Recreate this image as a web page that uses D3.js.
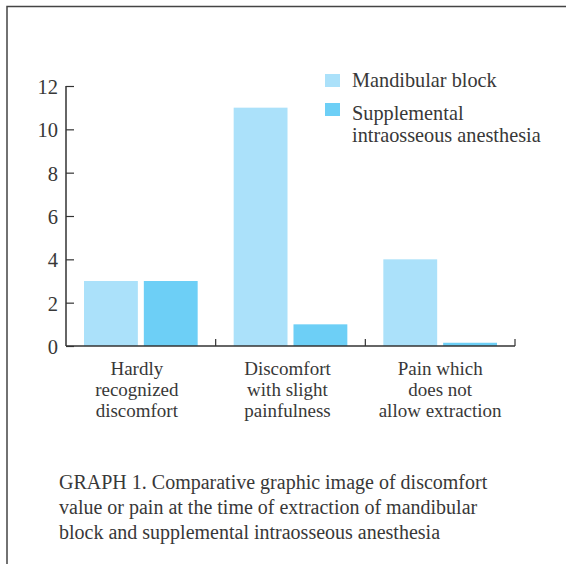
<!DOCTYPE html>
<html lang="en">
<head>
  <meta charset="UTF-8">
  <title>Graph 1</title>
  <style>
    body { margin: 0; background: #fff; }
  </style>
</head>
<body>
  <svg id="chart"></svg>

  <script src="https://d3js.org/d3.v7.min.js"></script>
  <script>
    // data
    var categories = ['Hardly recognized discomfort', 'Discomfort with slight painfulness', 'Pain which does not allow extraction'];
    var categoryLines = [
      ['Hardly', 'recognized', 'discomfort'],
      ['Discomfort', 'with slight', 'painfulness'],
      ['Pain which', 'does not', 'allow extraction']
    ];
    var seriesNames = ['Mandibular block', 'Supplemental intraosseous anesthesia'];
    var mandibular = [3, 11, 4];
    var supplemental = [3, 1, 0.15];
    var yTicks = [0, 2, 4, 6, 8, 10, 12];
    var captionLines = [
      'GRAPH 1. Comparative graphic image of discomfort',
      'value or pain at the time of extraction of mandibular',
      'block and supplemental intraosseous anesthesia'
    ];

    var colors = ['#abe1fa', '#6dcff6'];
    var FONT = 'Liberation Serif';
    var TXT = '#383838';
    var W = 566, H = 564;
    var plotL = 66, plotR = 515, plotT = 86, plotB = 346;

    var svg = d3.select('#chart').attr('width', W).attr('height', H);

    function addText(x, y, size, anchor) {
      return svg.append('text')
        .attr('x', x).attr('y', y)
        .attr('font-family', FONT)
        .attr('font-size', size)
        .attr('fill', TXT)
        .attr('text-anchor', anchor || 'start');
    }

    // frame (top + left lines)
    svg.append('path')
      .attr('d', 'M7,' + H + 'V6.5H' + W)
      .attr('fill', 'none')
      .attr('stroke', '#444')
      .attr('stroke-width', 1.5);

    var x0 = d3.scaleBand().domain(categories).range([plotL, plotR]);
    var x1 = d3.scaleBand().domain(seriesNames).range([18, x0.bandwidth() - 18]).paddingInner(0.1);
    var y = d3.scaleLinear().domain([0, 12]).range([plotB, plotT]);

    // bars
    categories.forEach(function (c, i) {
      var vals = [mandibular[i], supplemental[i]];
      svg.selectAll(null).data(vals).enter().append('rect')
        .attr('x', function (d, j) { return x0(c) + x1(seriesNames[j]); })
        .attr('width', x1.bandwidth())
        .attr('y', function (d) { return y(d); })
        .attr('height', function (d) { return plotB - y(d); })
        .attr('fill', function (d, j) { return colors[j]; });
    });

    // y axis, ticks pointing inward
    var axisY = d3.axisRight(y).tickValues(yTicks).tickSize(8).tickFormat('');
    var gy = svg.append('g').attr('transform', 'translate(' + plotL + ',0)').call(axisY);
    gy.select('.domain').attr('stroke', '#333').attr('stroke-width', 1.5).attr('d', 'M0,' + plotB + 'V' + plotT);
    gy.selectAll('.tick line').attr('stroke', '#333').attr('stroke-width', 1.2);
    yTicks.forEach(function (t) {
      addText(plotL - 8, y(t) + 8, 20.5, 'end').text(t);
    });

    // x axis with boundary ticks pointing up
    svg.append('line')
      .attr('x1', plotL).attr('x2', plotR)
      .attr('y1', plotB).attr('y2', plotB)
      .attr('stroke', '#333').attr('stroke-width', 1.5);
    var bounds = categories.slice(1).map(function (c) { return x0(c); }).concat([plotR]);
    svg.selectAll('line.xt').data(bounds).enter().append('line')
      .attr('class', 'xt')
      .attr('x1', function (d) { return d; }).attr('x2', function (d) { return d; })
      .attr('y1', plotB).attr('y2', plotB - 7)
      .attr('stroke', '#333').attr('stroke-width', 1.2);

    // category labels
    var labelShift = [-4, -3, 0];
    categories.forEach(function (c, i) {
      var cx = x0(c) + x0.bandwidth() / 2 + labelShift[i];
      categoryLines[i].forEach(function (ln, k) {
        addText(cx, plotB + 29 + k * 21, 19, 'middle').text(ln);
      });
    });

    // legend
    svg.append('rect').attr('x', 325).attr('y', 74).attr('width', 15).attr('height', 13).attr('fill', colors[0]);
    svg.append('rect').attr('x', 325).attr('y', 103).attr('width', 15).attr('height', 13).attr('fill', colors[1]);
    addText(352, 87, 20.3).text(seriesNames[0]);
    addText(352, 120, 20.3).text('Supplemental');
    addText(352, 142, 20.3).text('intraosseous anesthesia');

    // caption
    captionLines.forEach(function (ln, k) {
      addText(59, 489 + k * 25, 20).text(ln);
    });
  </script>
</body>
</html>
